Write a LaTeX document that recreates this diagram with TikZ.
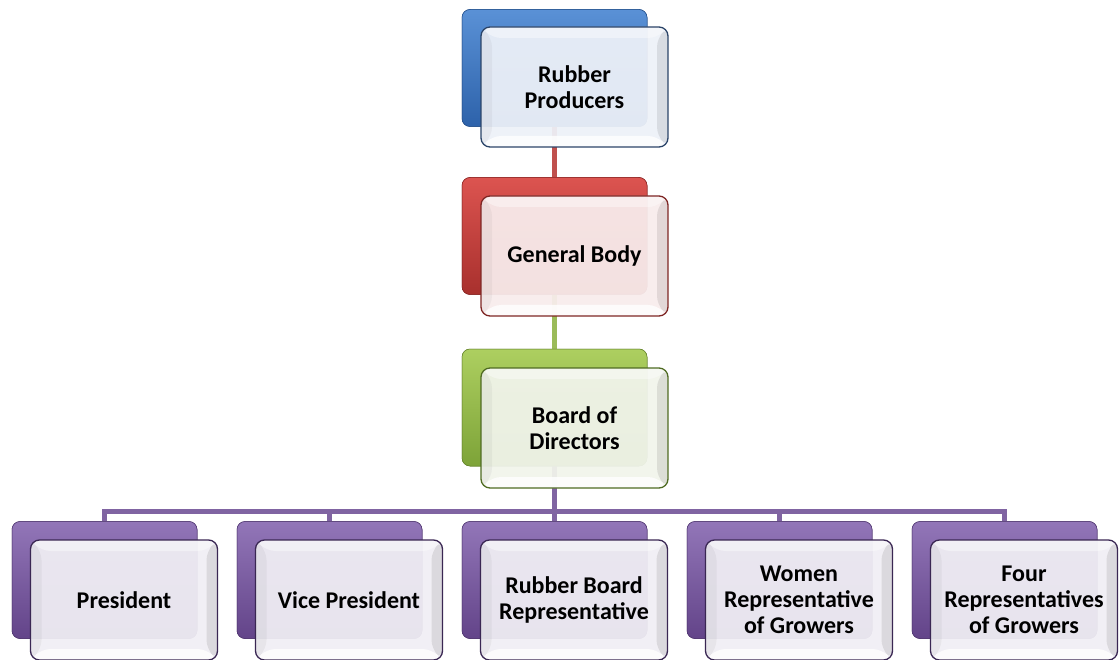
\documentclass[tikz,border=0pt]{standalone}
\usepackage{fontspec}
\setmainfont{Carlito}
\usetikzlibrary{calc}

% palette: back tile gradient, front tile tint and rim
\definecolor{blueTop}{HTML}{5A91D6}
\definecolor{blueBot}{HTML}{2D62AA}
\definecolor{blueRim}{HTML}{2B4468}
\definecolor{blueTint}{HTML}{EDF1F8}
\definecolor{redTop}{HTML}{DC5450}
\definecolor{redBot}{HTML}{A8302D}
\definecolor{redRim}{HTML}{7E2624}
\definecolor{redTint}{HTML}{F8ECEC}
\definecolor{greenTop}{HTML}{ADCF60}
\definecolor{greenBot}{HTML}{7DA338}
\definecolor{greenRim}{HTML}{4F6B22}
\definecolor{greenTint}{HTML}{F1F4EB}
\definecolor{purpleTop}{HTML}{9276B8}
\definecolor{purpleBot}{HTML}{634489}
\definecolor{purpleRim}{HTML}{3A2753}
\definecolor{purpleTint}{HTML}{F0EEF4}
\definecolor{redLink}{HTML}{C0504D}
\definecolor{greenLink}{HTML}{9BBB59}
\definecolor{purpleLink}{HTML}{8064A2}

\tikzset{
  backtile/.style={rounded corners=8pt, minimum width=185pt, minimum height=117pt,
    draw=#1Bot!80!black, line width=0.5pt, top color=#1Top, bottom color=#1Bot,
    inner sep=0pt},
  fronttile/.style={rounded corners=9pt, minimum width=187pt, minimum height=120pt,
    draw=#1Rim, line width=1.3pt, fill=#1Tint, fill opacity=0.94, text opacity=1,
    inner sep=1pt, align=center, font=\fontsize{24}{26}\selectfont\bfseries,
    path picture={
      % bevelled rim: light on top and bottom, grey on the sides
      \fill[black, opacity=0.09]
        (path picture bounding box.north east) --
        ([shift={(-11pt,-11pt)}]path picture bounding box.north east) --
        ([shift={(-11pt,11pt)}]path picture bounding box.south east) --
        (path picture bounding box.south east) -- cycle;
      \fill[black, opacity=0.04]
        (path picture bounding box.north west) --
        ([shift={(11pt,-11pt)}]path picture bounding box.north west) --
        ([shift={(11pt,11pt)}]path picture bounding box.south west) --
        (path picture bounding box.south west) -- cycle;
      \fill[white, opacity=0.8]
        (path picture bounding box.south west) --
        ([shift={(11pt,11pt)}]path picture bounding box.south west) --
        ([shift={(-11pt,11pt)}]path picture bounding box.south east) --
        (path picture bounding box.south east) -- cycle;
      \fill[white, opacity=0.4]
        (path picture bounding box.north west) --
        ([shift={(11pt,-11pt)}]path picture bounding box.north west) --
        ([shift={(-11pt,-11pt)}]path picture bounding box.north east) --
        (path picture bounding box.north east) -- cycle;
    }},
  link/.style={line width=5pt, draw=#1}
}

\begin{document}
\begin{tikzpicture}[x=1pt, y=-1pt]
\useasboundingbox (0,0) rectangle (1119,660);

% ---- back tiles (named, used as connector anchors) ----
\node[backtile=blue]   (rpB) at (554.5,68)   {};
\node[backtile=red]    (gbB) at (554.5,236)  {};
\node[backtile=green]  (bdB) at (554.5,407.5) {};
\node[backtile=purple] (prB) at (104.5,580)  {};
\node[backtile=purple] (vpB) at (329.5,580)  {};
\node[backtile=purple] (rbB) at (554.5,580)  {};
\node[backtile=purple] (wrB) at (779.5,580)  {};
\node[backtile=purple] (frB) at (1004.5,580) {};

% ---- connectors ----
\coordinate (bus) at (554.5,511);
\draw[link=redLink]    (rpB.south) -- (gbB.north);
\draw[link=greenLink]  (gbB.south) -- (bdB.north);
\draw[link=purpleLink] (bdB.south) -- (bus);
\draw[link=purpleLink, line join=miter] (bus) -| (prB.north);
\draw[link=purpleLink, line join=miter] (bus) -| (vpB.north);
\draw[link=purpleLink] (bus) -- (rbB.north);
\draw[link=purpleLink, line join=miter] (bus) -| (wrB.north);
\draw[link=purpleLink, line join=miter] (bus) -| (frB.north);

% redraw back tiles over the connector ends
\node[backtile=blue]   at (rpB) {};
\node[backtile=red]    at (gbB) {};
\node[backtile=green]  at (bdB) {};
\node[backtile=purple] at (prB) {};
\node[backtile=purple] at (vpB) {};
\node[backtile=purple] at (rbB) {};
\node[backtile=purple] at (wrB) {};
\node[backtile=purple] at (frB) {};

% ---- front tiles with labels ----
\node[fronttile=blue]   (rp) at (574.5,87)   {Rubber\\Producers};
\node[fronttile=red]    (gb) at (574.5,256)  {General Body};
\node[fronttile=green]  (bd) at (574.5,428)  {Board of\\Directors};
\node[fronttile=purple] (pr) at (124,600)    {President};
\node[fronttile=purple] (vp) at (349,600)    {Vice President};
\node[fronttile=purple] (rb) at (574,600)    {Rubber Board\\Representative};
\node[fronttile=purple] (wr) at (799,600)    {Women\\Representative\\of Growers};
\node[fronttile=purple] (fr) at (1024,600)   {Four\\Representatives\\of Growers};
\end{tikzpicture}
\end{document}
